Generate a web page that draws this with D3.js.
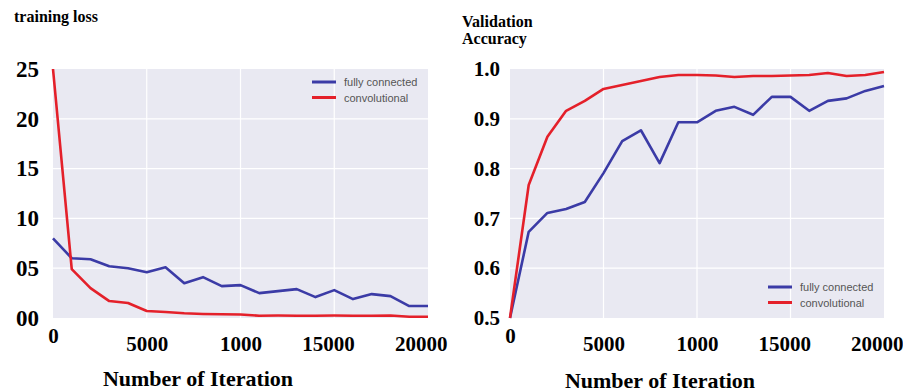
<!DOCTYPE html>
<html>
<head>
<meta charset="utf-8">
<script src="https://cdn.jsdelivr.net/npm/d3@7"></script>
<style>
  body { margin: 0; background: #fff; }
  svg { display: block; }
</style>
</head>
<body>
<svg width="903" height="392"></svg>
<script>
// Iterations shared by both panels (one reading every 1000 steps).
const iterations = d3.range(0, 20001, 1000);

// Training loss values.
const lossFully = [8.0, 6.0, 5.9, 5.2, 5.0, 4.6, 5.1, 3.5, 4.1, 3.2, 3.3, 2.5, 2.7, 2.9, 2.1, 2.8, 1.9, 2.4, 2.2, 1.2, 1.2];
const lossConv = [25, 4.9, 3.0, 1.7, 1.5, 0.7, 0.6, 0.47, 0.4, 0.37, 0.35, 0.23, 0.25, 0.23, 0.23, 0.25, 0.23, 0.23, 0.25, 0.13, 0.13];

// Validation accuracy values.
const accFully = [0.5, 0.673, 0.711, 0.719, 0.733, 0.791, 0.855, 0.877, 0.811, 0.893, 0.893, 0.916, 0.924, 0.908, 0.944, 0.944, 0.916, 0.936, 0.941, 0.956, 0.966];
const accConv = [0.5, 0.767, 0.864, 0.916, 0.936, 0.96, 0.968, 0.976, 0.984, 0.988, 0.988, 0.987, 0.984, 0.986, 0.986, 0.987, 0.988, 0.992, 0.986, 0.988, 0.994];

// Tick labels, as printed in the picture.
const xTicks = [0, 5000, 10000, 15000, 20000];
const xTickLabels = ["0", "5000", "1000", "15000", "20000"];
const lossTicks = [0, 5, 10, 15, 20, 25];
const lossTickLabels = ["00", "05", "10", "15", "20", "25"];
const accTicks = [0.5, 0.6, 0.7, 0.8, 0.9, 1.0];
const accTickLabels = ["0.5", "0.6", "0.7", "0.8", "0.9", "1.0"];

const seriesNames = ["fully connected", "convolutional"];
const blue = "#3b3ba6";
const red = "#e4202a";
const serif = "'Liberation Serif', 'Times New Roman', serif";
const sans = "'Liberation Sans', Arial, sans-serif";

const svg = d3.select("svg");

function drawPanel(opt) {
    const x = d3.scaleLinear().domain([0, 20000]).range([opt.left, opt.right]);
    const y = d3.scaleLinear().domain(opt.yDomain).range([opt.bottom, opt.top]);
    const g = svg.append("g");

    // Plot background
    g.append("rect")
     .attr("x", opt.left)
     .attr("y", opt.top)
     .attr("width", opt.right - opt.left)
     .attr("height", opt.bottom - opt.top)
     .attr("fill", "#e9e9f2");

    // Grid lines
    g.selectAll(".vgrid")
     .data(xTicks.slice(1, -1))
     .enter()
     .append("line")
     .attr("x1", d => x(d)).attr("x2", d => x(d))
     .attr("y1", opt.top).attr("y2", opt.bottom)
     .attr("stroke", "#fff").attr("stroke-width", 1.2);
    g.selectAll(".hgrid")
     .data(opt.yTicks.slice(1, -1))
     .enter()
     .append("line")
     .attr("x1", opt.left).attr("x2", opt.right)
     .attr("y1", d => y(d)).attr("y2", d => y(d))
     .attr("stroke", "#fff").attr("stroke-width", 1.2);

    // X axis
    const xAxis = g.append("g")
     .attr("transform", `translate(0, ${opt.bottom})`)
     .call(d3.axisBottom(x).tickValues(xTicks).tickSize(0).tickPadding(18)
             .tickFormat((d, i) => xTickLabels[i]));
    xAxis.select(".domain").remove();
    xAxis.selectAll("text")
         .style("font-family", serif)
         .style("font-weight", "bold")
         .style("font-size", "21px")
         .attr("fill", "#000")
         .attr("dx", (d, i) => i === xTicks.length - 1 ? "-0.35em" : (i === 3 ? "-0.3em" : 0))
         .attr("dy", (d, i) => i === 0 ? "0.35em" : "0.71em");

    // Y axis
    const yAxis = g.append("g")
     .attr("transform", `translate(${opt.left}, 0)`)
     .call(d3.axisLeft(y).tickValues(opt.yTicks).tickSize(0).tickPadding(opt.yPad)
             .tickFormat((d, i) => opt.yTickLabels[i]));
    yAxis.select(".domain").remove();
    yAxis.selectAll("text")
         .style("font-family", serif)
         .style("font-weight", "bold")
         .style("font-size", opt.yFont)
         .attr("fill", "#000");

    // Lines
    const line = d3.line().x((d, i) => x(iterations[i])).y(d => y(d));
    [[opt.fully, blue], [opt.conv, red]].forEach(([vals, color]) => {
        g.append("path")
         .datum(vals)
         .attr("d", line)
         .attr("fill", "none")
         .attr("stroke", color)
         .attr("stroke-width", 2.6)
         .attr("stroke-linejoin", "round");
    });

    // Legend
    const legend = g.append("g").attr("transform", `translate(${opt.legendX}, ${opt.legendY})`);
    [blue, red].forEach((color, i) => {
        legend.append("line")
              .attr("x1", 0).attr("x2", 24)
              .attr("y1", i * 15.5).attr("y2", i * 15.5)
              .attr("stroke", color).attr("stroke-width", 3);
        legend.append("text")
              .attr("x", 32).attr("y", i * 15.5 + 4)
              .style("font-family", sans)
              .style("font-size", "11px")
              .attr("fill", "#555")
              .text(seriesNames[i]);
    });

    // Axis title
    g.append("text")
     .attr("x", opt.xTitleX)
     .attr("y", opt.xTitleY)
     .attr("text-anchor", "middle")
     .style("font-family", serif)
     .style("font-weight", "bold")
     .style("font-size", "22px")
     .text("Number of Iteration");

    // Panel title (top left)
    opt.title.forEach((t, i) => {
        g.append("text")
         .attr("x", opt.titleX)
         .attr("y", opt.titleY + i * 17)
         .style("font-family", serif)
         .style("font-weight", "bold")
         .style("font-size", "16px")
         .text(t);
    });
}

drawPanel({
    left: 53, right: 428, top: 69, bottom: 318,
    yDomain: [0, 25], yTicks: lossTicks, yTickLabels: lossTickLabels,
    yPad: 14, yFont: "23px",
    fully: lossFully, conv: lossConv,
    legendX: 312, legendY: 82,
    xTitleX: 198, xTitleY: 386,
    title: ["training loss"], titleX: 14, titleY: 22
});

drawPanel({
    left: 510, right: 884, top: 69, bottom: 318,
    yDomain: [0.5, 1.0], yTicks: accTicks, yTickLabels: accTickLabels,
    yPad: 10, yFont: "21px",
    fully: accFully, conv: accConv,
    legendX: 768, legendY: 287,
    xTitleX: 660, xTitleY: 388,
    title: ["Validation", "Accuracy"], titleX: 462, titleY: 27
});
</script>
</body>
</html>
